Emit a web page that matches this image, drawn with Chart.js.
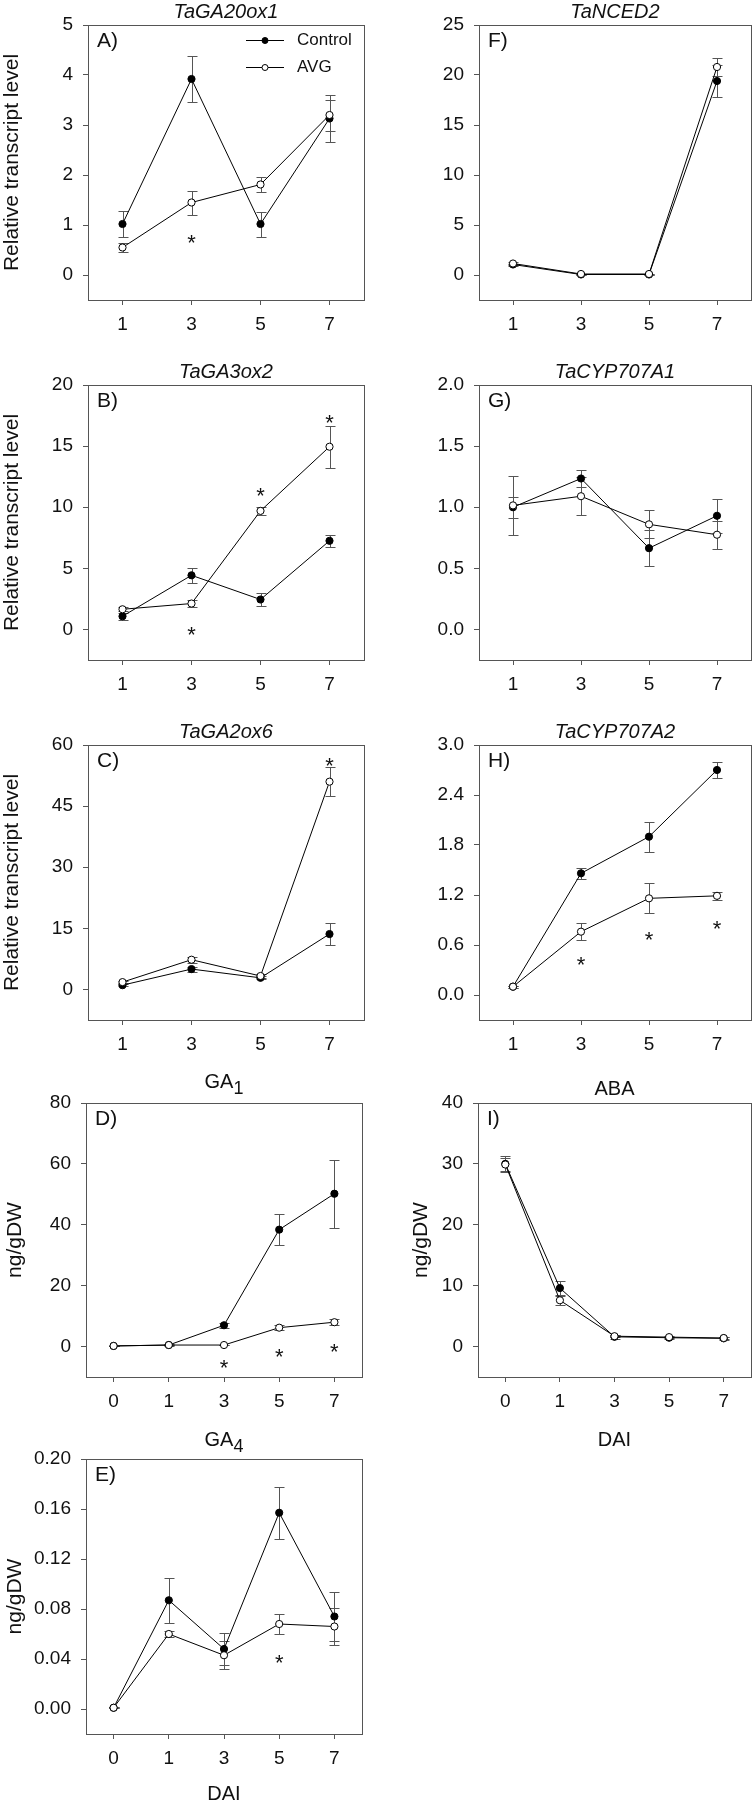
<!DOCTYPE html>
<html>
<head>
<meta charset="utf-8">
<script src="https://cdn.jsdelivr.net/npm/chart.js@4.4.1/dist/chart.umd.min.js"></script>
<style>
  html, body { margin: 0; padding: 0; background: #fff; }
  #page { position: relative; width: 756px; height: 1810px; overflow: hidden; background: #fff; }
  #page canvas { position: absolute; }
</style>
</head>
<body>
<div id="page"></div>
<script>
// Days after imbibition
const days4 = ['1', '3', '5', '7'];
const days5 = ['0', '1', '3', '5', '7'];

// A) TaGA20ox1
const ctrlA = [1.02, 3.92, 1.02, 3.13];
const errCtrlA = [0.26, 0.45, 0.25, 0.47];
const avgA = [0.55, 1.45, 1.81, 3.20];
const errAvgA = [0.09, 0.24, 0.16, 0.31];
const starsA = [['3', 0.77]];
const yTicksA = ['0', '1', '2', '3', '4', '5'];

// B) TaGA3ox2
const ctrlB = [1.08, 4.43, 2.45, 7.25];
const errCtrlB = [0.3, 0.62, 0.55, 0.5];
const avgB = [1.65, 2.12, 9.7, 14.95];
const errAvgB = [0.15, 0.32, 0.35, 1.7];
const starsB = [['3', 0.0], ['5', 11.4], ['7', 17.4]];
const yTicksB = ['0', '5', '10', '15', '20'];

// C) TaGA2ox6
const ctrlC = [1.05, 5.0, 2.85, 13.6];
const errCtrlC = [0.3, 0.6, 0.4, 2.6];
const avgC = [1.8, 7.3, 3.3, 51.0];
const errAvgC = [0.3, 0.7, 0.4, 3.6];
const starsC = [['7', 56.3]];
const yTicksC = ['0', '15', '30', '45', '60'];

// D) GA1
const ctrlD = [0.2, 0.5, 7.0, 38.4, 50.2];
const errCtrlD = [0.1, 0.2, 0.9, 5.2, 11.2];
const avgD = [0.2, 0.5, 0.5, 6.2, 8.0];
const errAvgD = [0.1, 0.1, 0.1, 0.8, 1.0];
const starsD = [['3', -5.0], ['5', -1.6], ['7', 0.3]];
const yTicksD = ['0', '20', '40', '60', '80'];

// E) GA4
const ctrlE = [0.001, 0.087, 0.048, 0.157, 0.074];
const errCtrlE = [0.0005, 0.018, 0.013, 0.021, 0.02];
const avgE = [0.001, 0.060, 0.043, 0.068, 0.066];
const errAvgE = [0.0005, 0.002, 0.011, 0.008, 0.0145];
const starsE = [['5', 0.042]];
const yTicksE = ['0.00', '0.04', '0.08', '0.12', '0.16', '0.20'];

// F) TaNCED2
const ctrlF = [1.05, 0.05, 0.05, 19.4];
const errCtrlF = [0.1, 0.02, 0.02, 1.6];
const avgF = [1.15, 0.1, 0.1, 20.8];
const errAvgF = [0.15, 0.05, 0.05, 0.87];
const yTicksF = ['0', '5', '10', '15', '20', '25'];

// G) TaCYP707A1
const ctrlG = [1.0, 1.235, 0.665, 0.93];
const errCtrlG = [0.085, 0.07, 0.15, 0.14];
const avgG = [1.015, 1.09, 0.86, 0.775];
const errAvgG = [0.24, 0.155, 0.115, 0.115];
const yTicksG = ['0.0', '0.5', '1.0', '1.5', '2.0'];

// H) TaCYP707A2
const ctrlH = [0.10, 1.46, 1.90, 2.70];
const errCtrlH = [0.01, 0.07, 0.18, 0.1];
const avgH = [0.10, 0.76, 1.16, 1.19];
const errAvgH = [0.01, 0.1, 0.18, 0.05];
const starsH = [['3', 0.43], ['5', 0.73], ['7', 0.87]];
const yTicksH = ['0.0', '0.6', '1.2', '1.8', '2.4', '3.0'];

// I) ABA
const ctrlI = [30.0, 9.6, 1.6, 1.45, 1.35];
const errCtrlI = [1.3, 1.1, 0.3, 0.2, 0.2];
const avgI = [29.9, 7.6, 1.7, 1.55, 1.4];
const errAvgI = [1.1, 0.7, 0.2, 0.2, 0.2];
const yTicksI = ['0', '10', '20', '30', '40'];

const FONT = '"Liberation Sans", Arial, Helvetica, sans-serif';
const INK = '#111';
const GREY = '#555';

Chart.defaults.font.family = FONT;
Chart.defaults.color = INK;

// error bars, frame, titles, panel letters, stars and legend
const figurePlugin = {
    id: 'figure',
    beforeDatasetsDraw(chart) {
        const ctx = chart.ctx;
        const y = chart.scales.y;
        ctx.save();
        ctx.strokeStyle = GREY;
        ctx.lineWidth = 1;
        chart.data.datasets.forEach((ds, di) => {
            const meta = chart.getDatasetMeta(di);
            ds.errors.forEach((e, i) => {
                const pt = meta.data[i];
                const x = Math.round(pt.x) + 0.5;
                const y1 = Math.round(y.getPixelForValue(ds.data[i] + e)) + 0.5;
                const y2 = Math.round(y.getPixelForValue(ds.data[i] - e)) + 0.5;
                ctx.beginPath();
                ctx.moveTo(x, y1); ctx.lineTo(x, y2);
                ctx.moveTo(x - 5, y1); ctx.lineTo(x + 5, y1);
                ctx.moveTo(x - 5, y2); ctx.lineTo(x + 5, y2);
                ctx.stroke();
            });
        });
        ctx.restore();
    },
    afterDraw(chart, args, opts) {
        const ctx = chart.ctx;
        const a = chart.chartArea;
        const xs = chart.scales.x, ys = chart.scales.y;
        ctx.save();

        // frame
        ctx.strokeStyle = GREY;
        ctx.lineWidth = 1;
        ctx.strokeRect(Math.round(a.left) + 0.5, Math.round(a.top) + 0.5,
            Math.round(a.right - a.left), Math.round(a.bottom - a.top));

        // title
        ctx.fillStyle = INK;
        ctx.textBaseline = 'middle';
        const t = opts.title;
        const mainFont = (t.italic ? 'italic ' : '') + '20px ' + FONT;
        const subFont = '18px ' + FONT;
        ctx.font = mainFont;
        const w1 = ctx.measureText(t.text).width;
        ctx.font = subFont;
        const w2 = t.sub ? ctx.measureText(t.sub).width : 0;
        const tx = (a.left + a.right) / 2 - (w1 + w2) / 2;
        const ty = a.top - t.dy;
        ctx.textAlign = 'left';
        ctx.font = mainFont;
        ctx.fillText(t.text, tx, ty);
        if (t.sub) {
            ctx.font = subFont;
            ctx.fillText(t.sub, tx + w1, ty + 7);
        }

        // panel letter
        ctx.font = '21px ' + FONT;
        ctx.fillText(opts.letter + ')', a.left + 9, a.top + 16);

        // significance marks
        ctx.font = '22px ' + FONT;
        ctx.textAlign = 'center';
        ctx.textBaseline = 'alphabetic';
        (opts.stars || []).forEach(([day, v]) => {
            const px = xs.getPixelForValue(chart.data.labels.indexOf(day));
            const py = ys.getPixelForValue(v);
            ctx.fillText('*', px, py + 13);
        });

        // legend
        if (opts.legend) {
            ctx.textAlign = 'left';
            ctx.textBaseline = 'middle';
            ctx.font = '17px ' + FONT;
            chart.data.datasets.forEach((ds, i) => {
                const ly = Math.round(a.top + 15 + i * 27) + 0.5;
                ctx.strokeStyle = '#000';
                ctx.beginPath();
                ctx.moveTo(a.left + 158, ly); ctx.lineTo(a.left + 196, ly);
                ctx.stroke();
                ctx.beginPath();
                ctx.arc(a.left + 177, ly, 3, 0, Math.PI * 2);
                ctx.fillStyle = ds.pointBackgroundColor;
                ctx.fill();
                ctx.stroke();
                ctx.fillStyle = INK;
                ctx.fillText(ds.label, a.left + 209, ly);
            });
        }
        ctx.restore();
    }
};

const panels = [
    { letter: 'A', x: 0, y: 0, w: 378, h: 360, area: { l: 88, t: 25, r: 364, b: 300 },
      title: { text: 'TaGA20ox1', italic: true, dy: 13 }, days: days4,
      ctrl: ctrlA, ctrlErr: errCtrlA, avg: avgA, avgErr: errAvgA, stars: starsA,
      yMin: -0.5, yMax: 5, yTicks: yTicksA, yTitle: 'Relative transcript level', yTitlePad: 0, legend: true },
    { letter: 'B', x: 0, y: 360, w: 378, h: 360, area: { l: 88, t: 25, r: 364, b: 300 },
      title: { text: 'TaGA3ox2', italic: true, dy: 13 }, days: days4,
      ctrl: ctrlB, ctrlErr: errCtrlB, avg: avgB, avgErr: errAvgB, stars: starsB,
      yMin: -2.5, yMax: 20, yTicks: yTicksB, yTitle: 'Relative transcript level', yTitlePad: 0 },
    { letter: 'C', x: 0, y: 720, w: 378, h: 340, area: { l: 88, t: 25, r: 364, b: 300 },
      title: { text: 'TaGA2ox6', italic: true, dy: 13 }, days: days4,
      ctrl: ctrlC, ctrlErr: errCtrlC, avg: avgC, avgErr: errAvgC, stars: starsC,
      yMin: -7.5, yMax: 60, yTicks: yTicksC, yTitle: 'Relative transcript level', yTitlePad: 0 },
    { letter: 'D', x: 0, y: 1060, w: 378, h: 360, area: { l: 86, t: 43, r: 362, b: 317 },
      title: { text: 'GA', sub: '1', italic: false, dy: 21 }, days: days5,
      ctrl: ctrlD, ctrlErr: errCtrlD, avg: avgD, avgErr: errAvgD, stars: starsD,
      yMin: -10, yMax: 80, yTicks: yTicksD, yTitle: 'ng/gDW', yTitlePad: 3 },
    { letter: 'E', x: 0, y: 1420, w: 378, h: 390, area: { l: 86, t: 39, r: 362, b: 314 },
      title: { text: 'GA', sub: '4', italic: false, dy: 19 }, days: days5,
      ctrl: ctrlE, ctrlErr: errCtrlE, avg: avgE, avgErr: errAvgE, stars: starsE,
      yMin: -0.02, yMax: 0.20, yTicks: yTicksE, yTitle: 'ng/gDW', yTitlePad: 3, xTitle: 'DAI', xTitlePad: 4 },
    { letter: 'F', x: 378, y: 0, w: 378, h: 360, area: { l: 101, t: 25, r: 373, b: 300 },
      title: { text: 'TaNCED2', italic: true, dy: 13 }, days: days4,
      ctrl: ctrlF, ctrlErr: errCtrlF, avg: avgF, avgErr: errAvgF,
      yMin: -2.5, yMax: 25, yTicks: yTicksF },
    { letter: 'G', x: 378, y: 360, w: 378, h: 360, area: { l: 101, t: 25, r: 373, b: 300 },
      title: { text: 'TaCYP707A1', italic: true, dy: 13 }, days: days4,
      ctrl: ctrlG, ctrlErr: errCtrlG, avg: avgG, avgErr: errAvgG,
      yMin: -0.25, yMax: 2.0, yTicks: yTicksG },
    { letter: 'H', x: 378, y: 720, w: 378, h: 340, area: { l: 101, t: 25, r: 373, b: 300 },
      title: { text: 'TaCYP707A2', italic: true, dy: 13 }, days: days4,
      ctrl: ctrlH, ctrlErr: errCtrlH, avg: avgH, avgErr: errAvgH, stars: starsH,
      yMin: -0.3, yMax: 3.0, yTicks: yTicksH },
    { letter: 'I', x: 378, y: 1060, w: 378, h: 400, area: { l: 100, t: 43, r: 373, b: 317 },
      title: { text: 'ABA', italic: false, dy: 14 }, days: days5,
      ctrl: ctrlI, ctrlErr: errCtrlI, avg: avgI, avgErr: errAvgI,
      yMin: -5, yMax: 40, yTicks: yTicksI, yTitle: 'ng/gDW', yTitlePad: 31, xTitle: 'DAI', xTitlePad: 8 }
];

const page = document.getElementById('page');

function makePanel(p) {
    const cv = document.createElement('canvas');
    cv.width = p.w;
    cv.height = p.h;
    cv.style.left = p.x + 'px';
    cv.style.top = p.y + 'px';
    cv.style.width = p.w + 'px';
    cv.style.height = p.h + 'px';
    page.appendChild(cv);

    const series = (label, data, errors, fill, order) => ({
        label, data, errors, order,
        borderColor: '#000', borderWidth: 1, tension: 0,
        pointRadius: 3.6, pointBorderWidth: 1,
        pointBorderColor: '#000', pointBackgroundColor: fill
    });

    new Chart(cv, {
        type: 'line',
        data: {
            labels: p.days,
            datasets: [
                series('Control', p.ctrl, p.ctrlErr, '#000', 1),
                series('AVG', p.avg, p.avgErr, '#fff', 0)
            ]
        },
        options: {
            responsive: false,
            animation: false,
            devicePixelRatio: 1,
            layout: { padding: { left: 0, top: p.area.t, right: p.w - p.area.r, bottom: 0 } },
            plugins: {
                legend: { display: false },
                tooltip: { enabled: false },
                title: { display: false },
                figure: { title: p.title, letter: p.letter, stars: p.stars, legend: !!p.legend }
            },
            scales: {
                x: {
                    type: 'category',
                    offset: true,
                    grid: { drawOnChartArea: false, drawTicks: true, tickLength: 5, tickColor: GREY },
                    border: { display: false },
                    ticks: { font: { size: 19 }, color: INK, padding: 8, maxRotation: 0, autoSkip: false },
                    title: { display: !!p.xTitle, text: p.xTitle || '', font: { size: 20 }, color: INK,
                             padding: { top: 0, bottom: p.xTitlePad || 0 } },
                    afterFit: s => { s.height = p.h - p.area.b; }
                },
                y: {
                    type: 'linear',
                    min: p.yMin,
                    max: p.yMax,
                    afterBuildTicks: s => { s.ticks = p.yTicks.map(t => ({ value: parseFloat(t) })); },
                    grid: { drawOnChartArea: false, drawTicks: true, tickLength: 5, tickColor: GREY },
                    border: { display: false },
                    ticks: { callback: (v, i) => p.yTicks[i], font: { size: 19 }, color: INK, padding: 10, autoSkip: false },
                    title: { display: !!p.yTitle, text: p.yTitle || '', font: { size: 21 }, color: INK,
                             padding: { top: p.yTitlePad || 0, bottom: 0 } },
                    afterFit: s => { s.width = p.area.l; }
                }
            }
        },
        plugins: [figurePlugin]
    });
}

panels.forEach(makePanel);
</script>
</body>
</html>
